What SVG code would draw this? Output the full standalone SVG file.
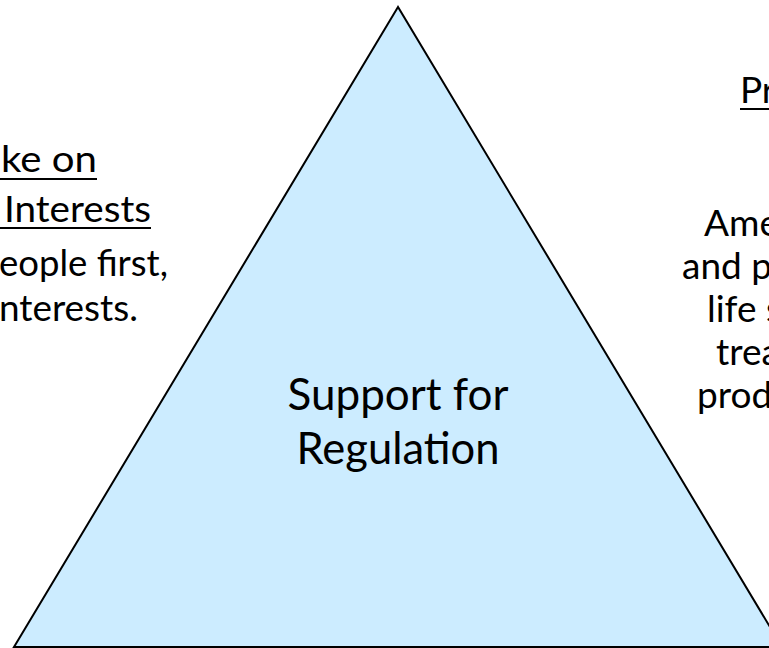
<svg xmlns="http://www.w3.org/2000/svg" width="769" height="648" viewBox="0 0 769 648">
<style>
.t{font-family:Lato,"Liberation Sans",sans-serif;fill:#000}
.side{font-size:37px}
.main{font-size:44px}
.ul{stroke:#000;stroke-width:2}
</style>
<rect width="769" height="648" fill="#fff"/>
<g id="triangle">
<polygon points="398,7 14,647 782,647" fill="#CCECFF" stroke="#000" stroke-width="2" stroke-linejoin="miter"/>
<text class="t main" x="398" y="410" text-anchor="middle" textLength="221" lengthAdjust="spacingAndGlyphs">Support for</text>
<text class="t main" x="398" y="464" text-anchor="middle" textLength="203" lengthAdjust="spacingAndGlyphs">Regulation</text>
</g>
<g id="left-text">
<text class="t side" x="1" y="172" textLength="96" lengthAdjust="spacingAndGlyphs">ke on</text>
<line class="ul" x1="0" y1="179" x2="97" y2="179"/>
<text class="t side" x="4" y="222" textLength="147" lengthAdjust="spacingAndGlyphs">Interests</text>
<line class="ul" x1="0" y1="228" x2="151" y2="228"/>
<text class="t side" x="-1" y="276" textLength="169" lengthAdjust="spacingAndGlyphs">eople first,</text>
<text class="t side" x="-1" y="321" textLength="139" lengthAdjust="spacingAndGlyphs">nterests.</text>
</g>
<g id="right-text">
<text class="t side" x="740" y="103">Pr</text>
<line class="ul" x1="740" y1="109" x2="769" y2="109"/>
<text class="t side" x="704" y="236">Ame</text>
<text class="t side" x="682" y="279">and p</text>
<text class="t side" x="707" y="322">life s</text>
<text class="t side" x="716" y="365">trea</text>
<text class="t side" x="697" y="408">prod</text>
</g>
</svg>
